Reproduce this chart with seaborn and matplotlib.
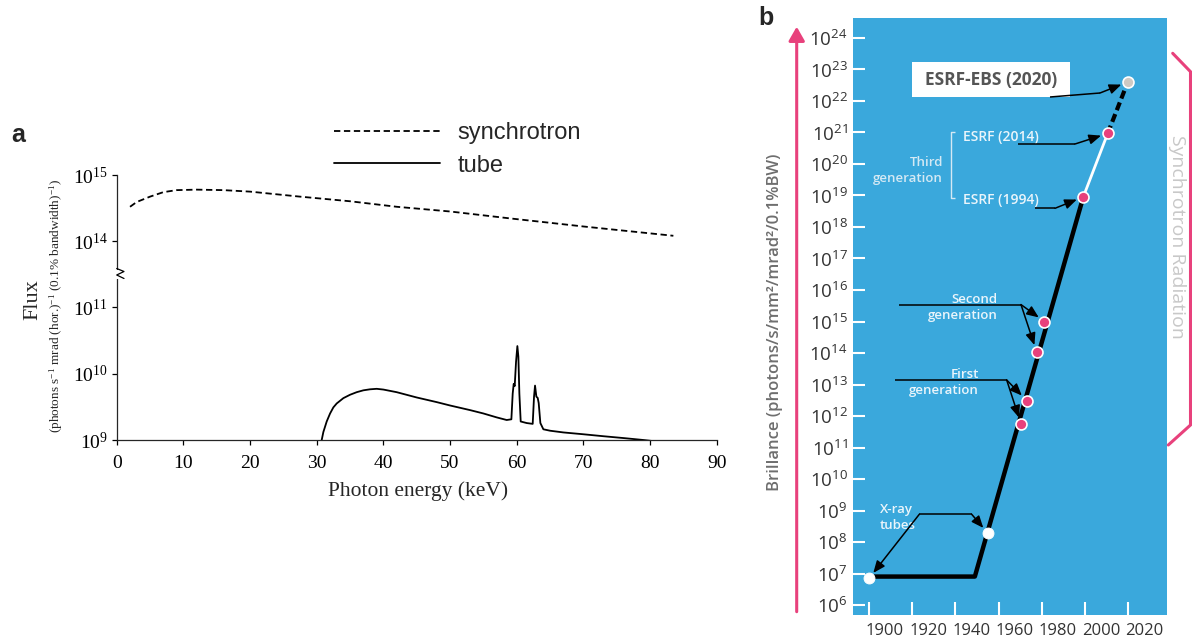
import math
import matplotlib
matplotlib.use("Agg")
import matplotlib.pyplot as plt
import matplotlib.transforms as mtransforms
from matplotlib.lines import Line2D
from matplotlib.patches import Rectangle, FancyArrowPatch
from matplotlib.ticker import NullLocator
import seaborn as sns

# ---------------- panel a: X-ray flux spectra ----------------
sync_energy = [2, 3, 5, 7, 9, 12, 16, 20, 27.5, 35, 42, 50, 59, 70, 83.5]
sync_flux = [3.3e14, 3.9e14, 4.7e14, 5.5e14, 5.9e14, 6.0e14, 5.9e14, 5.6e14,
             4.7e14, 4.0e14, 3.3e14, 2.8e14, 2.2e14, 1.66e14, 1.2e14]

tube_energy = [30.5, 30.75, 31.0, 31.5, 32.0, 32.5, 33.0, 34.0, 35.0, 36.0, 37.0, 38.0, 39.0, 40.0,
               42, 45, 48, 50, 53, 55, 57, 58.5,
               59.2, 59.4, 59.55, 59.7, 59.9, 60.1, 60.25, 60.4, 60.6, 61.5, 62.4, 62.6, 62.75,
               62.95, 63.15, 63.3, 63.55, 64.0, 65, 67, 70, 73, 76, 79, 81]
tube_flux = [0.8e9, 1.0e9, 1.32e9, 1.9e9, 2.5e9, 3.1e9, 3.55e9, 4.27e9, 4.8e9, 5.25e9, 5.6e9,
             5.8e9, 5.9e9, 5.75e9,
             5.25e9, 4.37e9, 3.72e9, 3.31e9, 2.82e9, 2.51e9, 2.19e9, 2.0e9,
             2.05e9, 5.0e9, 7.0e9, 6.5e9, 1.5e10, 2.6e10, 1.8e10, 5.0e9, 1.9e9, 1.8e9, 1.75e9,
             4.5e9, 6.6e9, 4.5e9, 4.3e9, 3.6e9, 1.8e9, 1.45e9, 1.38e9, 1.3e9, 1.22e9, 1.14e9,
             1.07e9, 1.0e9, 0.95e9]

energy_ticks = list(range(0, 91, 10))
flux_ticks_hi = [1e14, 1e15]
flux_ticks_lo = [1e9, 1e10, 1e11]

# ---------------- panel b: brilliance over time ----------------
tube_year = [1900, 1955]
tube_brill = [7e6, 1.9e8]
gen1_year = [1970.4, 1973.0]
gen1_brill = [5.5e11, 3.1e12]
gen2_year = [1977.6, 1981.2]
gen2_brill = [1.1e14, 1.0e15]
esrf_year = [1999.2, 2010.5]          # ESRF (1994), ESRF (2014)
esrf_brill = [9.0e18, 9.3e20]
ebs_year = [2019.8]                    # ESRF-EBS (2020)
ebs_brill = [4.0e22]
plateau_year = [1900, 1949]
plateau_brill = [8e6, 8e6]

year_ticks = list(range(1900, 2021, 20))
brill_exponents = list(range(6, 25))

BLUE = '#3aa8dc'
PINK = '#e8417c'
LIGHT = '#eaf5fb'
DARK = '#333333'

sns.set_theme(style='ticks')
plt.rcParams['font.family'] = ['Open Sans', 'DejaVu Sans']
plt.rcParams['axes.linewidth'] = 0.9

W, H = 1192, 640


def rect(left, top, right, bottom):
    return [left / W, 1 - bottom / H, (right - left) / W, (bottom - top) / H]


def fpt(px, py):
    return (px / W, 1 - py / H)


def power_label(v):
    return r'$\mathregular{10^{%d}}$' % round(math.log10(v))


fig = plt.figure(figsize=(W / 100, H / 100), dpi=100)

# ======== panel a ========
SERIF = 'Liberation Serif'
ax_hi = fig.add_axes(rect(116.7, 175, 716.7, 274))
ax_lo = fig.add_axes(rect(116.7, 274, 716.7, 440))
for ax in (ax_hi, ax_lo):
    ax.set_yscale('log')

sync_dash = (0, (3.5, 2.0))
sns.lineplot(x=sync_energy, y=sync_flux, ax=ax_hi, color='black', lw=1.3, estimator=None)
ax_hi.lines[-1].set_linestyle(sync_dash)
sns.lineplot(x=tube_energy, y=tube_flux, ax=ax_lo, color='black', lw=1.3, estimator=None)

ax_hi.set_ylim(10 ** 13.5, 1e15)
ax_lo.set_ylim(1e9, 10 ** 11.5)
ax_hi.set_yticks(flux_ticks_hi, labels=[power_label(v) for v in flux_ticks_hi])
ax_lo.set_yticks(flux_ticks_lo, labels=[power_label(v) for v in flux_ticks_lo])
for ax in (ax_hi, ax_lo):
    ax.set_xlim(0, 90)
    ax.yaxis.set_minor_locator(NullLocator())
    ax.spines[['top', 'right']].set_visible(False)
    ax.tick_params(axis='y', direction='out', length=3.5, width=0.9, labelsize=14, pad=3, colors='black')
    ax.set_ylabel('')
ax_hi.spines['bottom'].set_visible(False)
ax_hi.tick_params(axis='x', which='both', bottom=False, labelbottom=False)
ax_lo.set_xticks(energy_ticks)
ax_lo.tick_params(axis='x', direction='out', length=3.5, width=0.9, labelsize=14, pad=7, colors='black')
for ax in (ax_hi, ax_lo):
    for lab in ax.get_xticklabels() + ax.get_yticklabels():
        lab.set_fontfamily(SERIF)
ax_lo.set_xlabel('Photon energy (keV)', fontsize=15.5, family=SERIF, va='center')
ax_lo.xaxis.set_label_coords(0.502, -0.308)

# axis break mark on the left spine
fig.add_artist(Rectangle(fpt(114.5, 278.5), 4.5 / W, 9 / H, transform=fig.transFigure,
                         facecolor='white', edgecolor='none', zorder=10))
zz = [fpt(116.7, 268.5), fpt(124, 271.5), fpt(116.7, 275), fpt(124, 278.5)]
fig.add_artist(Line2D([p[0] for p in zz], [p[1] for p in zz], transform=fig.transFigure,
                      color='black', lw=0.9, zorder=11))

# y-axis title in two lines
fig.text(*fpt(33, 300), 'Flux', rotation=90, ha='center', va='center', fontsize=16, family=SERIF)
fig.text(*fpt(56, 306),
         r'(photons s$\mathregular{^{-1}}$ mrad (hor.)$\mathregular{^{-1}}$ (0.1% bandwidth)$\mathregular{^{-1}}$)',
         rotation=90, ha='center', va='center', fontsize=9.5, family=SERIF)

# legend
sync_handle = Line2D([], [], color='black', lw=1.3, linestyle=sync_dash)
tube_handle = Line2D([], [], color='black', lw=1.3)
fig.legend(handles=[sync_handle, tube_handle], labels=['synchrotron', 'tube'],
           loc='upper left', bbox_to_anchor=fpt(334, 122), frameon=False,
           prop={'family': 'Liberation Sans', 'size': 17}, handlelength=4.5,
           handletextpad=0.72, labelspacing=0.45, borderpad=0, borderaxespad=0)

fig.text(*fpt(11.7, 141.7), 'a', fontsize=18, fontweight='bold', family='Liberation Sans', va='baseline')
fig.text(*fpt(758, 25), 'b', fontsize=18, fontweight='bold', family='Liberation Sans', va='baseline')

# ======== panel b ========
BL, BT, BR, BB = 853.3, 18.3, 1167.3, 615.0
axb = fig.add_axes(rect(BL, BT, BR, BB))
axb.set_facecolor(BLUE)
axb.set_yscale('log')


def ab(px, py):
    return ((px - BL) / (BR - BL), (BB - py) / (BB - BT))


trend_year = plateau_year + [esrf_year[0]]
trend_brill = plateau_brill + [esrf_brill[0]]
sns.lineplot(x=trend_year, y=trend_brill, ax=axb, color='black', lw=3.2, estimator=None, sort=False)
sns.lineplot(x=esrf_year, y=esrf_brill, ax=axb, color='white', lw=2.0, estimator=None, sort=False)
sns.lineplot(x=[esrf_year[1], ebs_year[0]], y=[esrf_brill[1], ebs_brill[0]], ax=axb,
             color='black', lw=3.0, estimator=None, sort=False)
axb.lines[-1].set_linestyle((0, (2.0, 1.0)))

sns.scatterplot(x=tube_year, y=tube_brill, ax=axb, color='white', edgecolor='white', s=62, zorder=5)
sns.scatterplot(x=gen1_year + gen2_year + esrf_year, y=gen1_brill + gen2_brill + esrf_brill, ax=axb,
                color=PINK, edgecolor='white', linewidth=1.2, s=62, zorder=5)
sns.scatterplot(x=ebs_year, y=ebs_brill, ax=axb, color='#cfc9c3', edgecolor='white', linewidth=1.2,
                s=62, zorder=5)

axb.set_xlim(1892.73, 2038.1)
axb.set_ylim(10 ** 5.683, 10 ** 24.625)
for s in axb.spines.values():
    s.set_visible(False)
axb.set_yticks([10.0 ** k for k in brill_exponents],
               labels=[r'$\mathregular{10^{%d}}$' % k for k in brill_exponents])
axb.yaxis.set_minor_locator(NullLocator())
axb.set_xticks(year_ticks, labels=[str(y) for y in year_ticks])
axb.tick_params(axis='y', direction='in', length=8.6, width=1.5, color='white',
                labelsize=13.5, labelcolor=DARK, pad=4)
axb.tick_params(axis='x', direction='in', length=9.4, width=1.5, color='white',
                labelsize=12, labelcolor=DARK, pad=5.5)
shift = mtransforms.ScaledTranslation(0.16, 0, fig.dpi_scale_trans)
for lab in axb.get_xticklabels():
    lab.set_transform(lab.get_transform() + shift)
axb.set_xlabel('')
axb.set_ylabel('Brillance (photons/s/mm²/mrad²/0.1%BW)', fontsize=12, fontweight='semibold',
               color='#6e6e6e', va='center')
axb.yaxis.set_label_coords(*ab(775, 322))

# annotation helpers
arrow_kw = dict(arrowstyle='-|>,head_length=0.6,head_width=0.25', color='black', lw=1.1,
                shrinkA=0, shrinkB=5, mutation_scale=12)


def seg(points, color='black', lw=1.1):
    pts = [ab(*p) for p in points]
    axb.plot([p[0] for p in pts], [p[1] for p in pts], transform=axb.transAxes,
             color=color, lw=lw, solid_capstyle='butt', zorder=4)


def arrow(px, py, x, y):
    axb.annotate('', xy=(x, y), xycoords='data', xytext=ab(px, py), textcoords='axes fraction',
                 arrowprops=arrow_kw, zorder=4)


def label(px, py, s, ha='left', color=LIGHT, size=10, weight='semibold'):
    axb.text(*ab(px, py), s, transform=axb.transAxes, ha=ha, va='center', color=color,
             fontsize=size, fontweight=weight, multialignment=ha, linespacing=1.3, zorder=4)


# ESRF-EBS
bx0, by0 = ab(911.7, 97.3)
bx1, by1 = ab(1070, 61.7)
axb.add_patch(Rectangle((bx0, by0), bx1 - bx0, by1 - by0, transform=axb.transAxes,
                        facecolor='white', edgecolor='none', zorder=3))
label(990.85, 79.5, 'ESRF-EBS (2020)', ha='center', color='#555555', size=12.5, weight='bold')
seg([(1050, 97), (1100, 93)])
arrow(1100, 93, ebs_year[0], ebs_brill[0])

# ESRF 2014 / 1994 and third generation
label(963, 136.7, 'ESRF (2014)')
seg([(1018.3, 144), (1075, 144)])
arrow(1075, 144, esrf_year[1], esrf_brill[1])
label(963, 200, 'ESRF (1994)')
seg([(1035, 208.3), (1055, 208.3)])
arrow(1055, 208.3, esrf_year[0], esrf_brill[0])
seg([(955, 131.7), (950.7, 131.7), (950.7, 198.3), (955, 198.3)], color='#d4e9f4', lw=1.0)
label(943, 170.85, 'Third\ngeneration', ha='right', color='#d4e9f4', size=9.5)

# second generation
label(998, 307.2, 'Second\ngeneration', ha='right', size=9.5)
seg([(899.3, 304.6), (1021, 304.6)])
arrow(1021, 304.6, gen2_year[1], gen2_brill[1])
arrow(1021, 304.6, gen2_year[0], gen2_brill[0])

# first generation
label(979, 382.2, 'First\ngeneration', ha='right', size=9.5)
seg([(895, 380), (1006.7, 380)])
arrow(1006.7, 380, gen1_year[1], gen1_brill[1])
arrow(1006.7, 380, gen1_year[0], gen1_brill[0])

# X-ray tubes
label(880, 517.9, 'X-ray\ntubes', ha='left', size=9.5)
seg([(919.3, 514.3), (971.7, 514.3)])
arrow(971.7, 514.3, tube_year[1], tube_brill[1])
arrow(919.3, 514.3, tube_year[0], tube_brill[0])

# pink axis arrow on the left of panel b
fig.add_artist(FancyArrowPatch(fpt(796.7, 611.7), fpt(796.7, 26.7), transform=fig.transFigure,
                               arrowstyle='-|>,head_length=0.7,head_width=0.4', mutation_scale=12,
                               color=PINK, lw=2.2, shrinkA=0, shrinkB=0))

# bracket marking the synchrotron era
br = [fpt(1172.7, 53.3), fpt(1190.5, 71.7), fpt(1190.5, 425), fpt(1168.3, 445)]
fig.add_artist(Line2D([p[0] for p in br], [p[1] for p in br], transform=fig.transFigure,
                      color=PINK, lw=2.2, solid_joinstyle='miter'))
fig.text(*fpt(1177, 237), 'Synchrotron Radiation', rotation=-90, ha='center', va='center',
         color='#c8c8c8', fontsize=14)

fig.savefig('out.png', dpi=100)
